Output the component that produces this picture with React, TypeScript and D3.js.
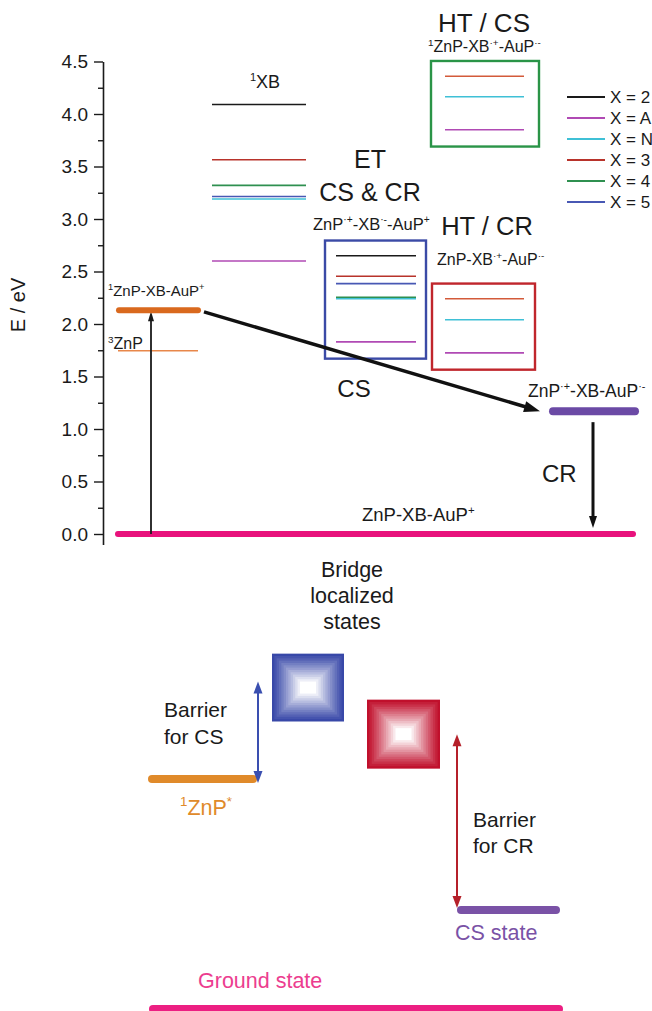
import React, { useEffect, useRef } from 'react';
import * as d3 from 'd3';

// bridge series (legend order)
const seriesNames = ['X = 2', 'X = A', 'X = N', 'X = 3', 'X = 4', 'X = 5'];
// energies (eV) per series in each column; NaN = no level
const xbLevels = [4.09, 2.6, 3.19, 3.565, 3.32, 3.215];
const etLevels = [2.65, 1.83, 2.24, 2.455, 2.255, 2.385];
const htCrLevels = [NaN, 1.725, 2.04, 2.24, NaN, NaN];
const htCsLevels = [NaN, 3.85, 4.165, 4.36, NaN, NaN];
const znpSinglet = 2.13;
const znpTriplet = 1.745;
const csState = 1.17;
const groundState = 0;
const yTickValues = [0, 0.5, 1, 1.5, 2, 2.5, 3, 3.5, 4, 4.5];
const yMinorValues = [0.25, 0.75, 1.25, 1.75, 2.25, 2.75, 3.25, 3.75, 4.25];

// schematic (relative energies, ground = 0, 1ZnP* = 1)
const schemeLevels = [0, 0.43, 1.0]; // ground, CS state, 1ZnP*
const bridgeBlue = [1.25, 1.545];
const bridgeRed = [1.045, 1.345];

const seriesColors = ['#1a1a1a', '#b04ab4', '#3fc0d6', '#b8332b', '#2f9050', '#4858b4'];
const htColors = ['#1a1a1a', '#b04ab4', '#3fc0d6', '#d35a3a', '#2f9050', '#4858b4'];
const FONT = 'Liberation Sans, Arial, sans-serif';

type Part = [string, boolean?];

function Rich({ x, y, parts, size, anchor = 'start', fill = '#1a1a1a' }:
  { x: number; y: number; parts: Part[]; size: number; anchor?: string; fill?: string }) {
  const sup = size * 0.62;
  const shift = size * 0.4;
  let raised = false;
  return (
    <text x={x} y={y} fontSize={size} textAnchor={anchor} fill={fill} fontFamily={FONT}>
      {parts.map(([t, s], i) => {
        let dy = 0;
        if (s && !raised) { dy = -shift; raised = true; }
        else if (!s && raised) { dy = shift; raised = false; }
        return <tspan key={i} dy={dy || undefined} fontSize={s ? sup : size}>{t}</tspan>;
      })}
    </text>
  );
}

function head(x1: number, y1: number, x2: number, y2: number, len: number, w: number) {
  const a = Math.atan2(y2 - y1, x2 - x1);
  const bx = x2 - len * Math.cos(a), by = y2 - len * Math.sin(a);
  const px = -Math.sin(a) * w / 2, py = Math.cos(a) * w / 2;
  return `M${x2},${y2}L${bx + px},${by + py}L${bx - px},${by - py}Z`;
}

function Arrow({ x1, y1, x2, y2, len, w, sw, color, both = false }:
  { x1: number; y1: number; x2: number; y2: number; len: number; w: number; sw: number; color: string; both?: boolean }) {
  const a = Math.atan2(y2 - y1, x2 - x1);
  const ex = x2 - len * 0.8 * Math.cos(a), ey = y2 - len * 0.8 * Math.sin(a);
  const sx = both ? x1 + len * 0.8 * Math.cos(a) : x1, sy = both ? y1 + len * 0.8 * Math.sin(a) : y1;
  return (
    <g>
      <line x1={sx} y1={sy} x2={ex} y2={ey} stroke={color} strokeWidth={sw} />
      <path d={head(x1, y1, x2, y2, len, w)} fill={color} />
      {both && <path d={head(x2, y2, x1, y1, len, w)} fill={color} />}
    </g>
  );
}

function GradSquare({ x, y, w, h, color }: { x: number; y: number; w: number; h: number; color: string }) {
  const steps = 12;
  const step = (Math.min(w, h) / 2 - 6) / steps;
  const interp = d3.interpolateRgb(color, '#ffffff');
  return (
    <g>
      {d3.range(steps + 1).map(i => (
        <rect key={i} x={x + i * step} y={y + i * step} width={w - 2 * i * step} height={h - 2 * i * step}
          fill={i === steps ? '#ffffff' : interp(Math.pow(i / steps, 1.1))} />
      ))}
    </g>
  );
}

export default function App() {
  const axisRef = useRef<SVGGElement>(null);
  const W = 652, H = 1011;
  const y = d3.scaleLinear().domain([-0.1, 4.5]).range([544.5, 61.5]);
  const sy = d3.scaleLinear().domain([0, 1]).range([1009, 779]);
  const axisX = 103;

  useEffect(() => {
    const g = d3.select(axisRef.current);
    g.selectAll('*').remove();
    g.append('g')
      .call(d3.axisLeft(y).tickValues(yMinorValues).tickSize(5).tickFormat(() => ''))
      .call(s => s.select('.domain').remove())
      .selectAll('line').attr('stroke', '#1a1a1a').attr('stroke-width', 1.4);
    const major = g.append('g')
      .call(d3.axisLeft(y).tickValues(yTickValues).tickSize(9).tickSizeOuter(0).tickPadding(6).tickFormat(d3.format('.1f')));
    major.select('.domain').attr('stroke', '#1a1a1a').attr('stroke-width', 1.6);
    major.selectAll('line').attr('stroke', '#1a1a1a').attr('stroke-width', 1.4);
    major.selectAll('text').attr('font-size', 19).attr('font-family', FONT).attr('fill', '#1a1a1a');
  }, []);

  const levelLines = (levels: number[], x1: number, x2: number, colors: string[], order: number[]) =>
    order.filter(i => !isNaN(levels[i])).map(i => (
      <line key={i} x1={x1} x2={x2} y1={y(levels[i])} y2={y(levels[i])} stroke={colors[i]} strokeWidth={1.6} />
    ));
  const order = [1, 2, 5, 4, 3, 0];

  const boxOf = (levels: number[]) => {
    const v = levels.filter(d => !isNaN(d));
    return [y(d3.max(v)! + 0.145), y(d3.min(v)! - 0.16)];
  };
  const [etTop, etBot] = boxOf(etLevels);
  const [crTop, crBot] = boxOf(htCrLevels);
  const [csTop, csBot] = boxOf(htCsLevels);

  const blueMid = sy((bridgeBlue[0] + bridgeBlue[1]) / 2);
  const redMid = sy((bridgeRed[0] + bridgeRed[1]) / 2);

  return (
    <svg width={W} height={H} style={{ position: 'absolute', left: 0, top: 0, background: '#fff' }}>
      <g ref={axisRef} transform={`translate(${axisX},0)`} />
      <text transform="translate(25,305) rotate(-90)" textAnchor="middle" fontSize={20} fontFamily={FONT} fill="#1a1a1a">E / eV</text>

      {/* ground state */}
      <line x1={118} x2={633} y1={y(groundState)} y2={y(groundState)} stroke="#e8127c" strokeWidth={6} strokeLinecap="round" />
      <Rich x={362} y={521} size={18.5} parts={[['ZnP-XB-AuP'], ['+', true]]} />

      {/* ZnP levels */}
      <line x1={118} x2={198} y1={y(znpTriplet)} y2={y(znpTriplet)} stroke="#e8874a" strokeWidth={1.6} />
      <Rich x={108} y={349} size={16} parts={[['3', true], ['ZnP']]} />
      <Arrow x1={151} y1={y(groundState)} x2={151} y2={y(znpSinglet) + 1} len={10} w={6} sw={1.8} color="#1a1a1a" />
      <line x1={119} x2={198} y1={y(znpSinglet)} y2={y(znpSinglet)} stroke="#d9691e" strokeWidth={6} strokeLinecap="round" />
      <Rich x={108} y={296} size={15} parts={[['1', true], ['ZnP-XB-AuP'], ['+', true]]} />

      {/* 1XB column */}
      <Rich x={265} y={88} size={18} anchor="middle" parts={[['1', true], ['XB']]} />
      {levelLines(xbLevels, 212, 306, seriesColors, order)}

      {/* ET box */}
      <Rich x={370} y={168} size={25} anchor="middle" parts={[['ET']]} />
      <Rich x={370} y={201} size={25} anchor="middle" parts={[['CS & CR']]} />
      <Rich x={313} y={230} size={16.5} parts={[['ZnP'], ['·+', true], ['-XB'], ['·-', true], ['-AuP'], ['+', true]]} />
      <rect x={325} y={etTop} width={101} height={etBot - etTop} fill="none" stroke="#3b4aa6" strokeWidth={2.4} />
      {levelLines(etLevels, 336, 416, seriesColors, order)}

      {/* HT / CR box */}
      <Rich x={487} y={235} size={25.5} anchor="middle" parts={[['HT / CR']]} />
      <Rich x={437} y={265} size={16} parts={[['ZnP-XB'], ['·+', true], ['-AuP'], ['·-', true]]} />
      <rect x={432} y={crTop} width={103} height={crBot - crTop} fill="none" stroke="#c0262c" strokeWidth={2.4} />
      {levelLines(htCrLevels, 445, 524, htColors, order)}

      {/* HT / CS box */}
      <Rich x={484} y={32} size={26} anchor="middle" parts={[['HT / CS']]} />
      <Rich x={428} y={52} size={16} parts={[['1', true], ['ZnP-XB'], ['·+', true], ['-AuP'], ['·-', true]]} />
      <rect x={431} y={csTop} width={108} height={csBot - csTop} fill="none" stroke="#2a9447" strokeWidth={2.4} />
      {levelLines(htCsLevels, 445, 524, htColors, order)}

      {/* legend */}
      {seriesNames.map((s, i) => (
        <g key={s} transform={`translate(567,${97 + i * 21})`}>
          <line x1={0} x2={38} y1={0} y2={0} stroke={seriesColors[i]} strokeWidth={1.8} />
          <text x={43} y={6} fontSize={17} fontFamily={FONT} fill="#1a1a1a">{s}</text>
        </g>
      ))}

      {/* CS state + arrows */}
      <Arrow x1={204} y1={y(znpSinglet) + 1.5} x2={540} y2={y(csState)} len={16} w={11} sw={3.5} color="#111" />
      <Rich x={354} y={397} size={24} anchor="middle" parts={[['CS']]} />
      <line x1={553} x2={635} y1={y(csState)} y2={y(csState)} stroke="#6b4aa5" strokeWidth={8} strokeLinecap="round" />
      <Rich x={528} y={397} size={17.5} parts={[['ZnP'], ['·+', true], ['-XB-AuP'], ['·-', true]]} />
      <Arrow x1={593} y1={y(csState) + 11} x2={593} y2={y(groundState) - 6} len={12} w={8} sw={3} color="#111" />
      <Rich x={542} y={482} size={24} parts={[['CR']]} />

      {/* schematic */}
      {['Bridge', 'localized', 'states'].map((t, i) => (
        <text key={t} x={352} y={577 + i * 26} fontSize={21.5} textAnchor="middle" fontFamily={FONT} fill="#1a1a1a">{t}</text>
      ))}
      <GradSquare x={272} y={sy(bridgeBlue[1])} w={72} h={sy(bridgeBlue[0]) - sy(bridgeBlue[1])} color="#3848a8" />
      <GradSquare x={367} y={sy(bridgeRed[1])} w={73} h={sy(bridgeRed[0]) - sy(bridgeRed[1])} color="#c0102c" />

      <line x1={152} x2={253} y1={sy(schemeLevels[2])} y2={sy(schemeLevels[2])} stroke="#e08a2a" strokeWidth={8} strokeLinecap="round" />
      <Arrow x1={258} y1={blueMid - 6} x2={258} y2={sy(schemeLevels[2]) + 4} len={12} w={9} sw={2} color="#3a4fb0" both />
      {['Barrier', 'for CS'].map((t, i) => (
        <text key={t} x={164} y={717 + i * 27} fontSize={21} fontFamily={FONT} fill="#1a1a1a">{t}</text>
      ))}
      <Rich x={180} y={815} size={21.5} fill="#e08a2a" parts={[['1', true], ['ZnP'], ['*', true]]} />

      <Arrow x1={457} y1={redMid} x2={457} y2={sy(schemeLevels[1]) - 2} len={12} w={9} sw={2} color="#b5202a" both />
      {['Barrier', 'for CR'].map((t, i) => (
        <text key={t} x={473} y={827 + i * 26} fontSize={21} fontFamily={FONT} fill="#1a1a1a">{t}</text>
      ))}
      <line x1={461} x2={556} y1={sy(schemeLevels[1])} y2={sy(schemeLevels[1])} stroke="#7a52a6" strokeWidth={8} strokeLinecap="round" />
      <text x={455} y={940} fontSize={21.5} fontFamily={FONT} fill="#7a52a6">CS state</text>

      <text x={198} y={988} fontSize={21.5} fontFamily={FONT} fill="#ec3d8f">Ground state</text>
      <line x1={153} x2={559} y1={sy(schemeLevels[0])} y2={sy(schemeLevels[0])} stroke="#ec1f82" strokeWidth={8} strokeLinecap="round" />
    </svg>
  );
}
